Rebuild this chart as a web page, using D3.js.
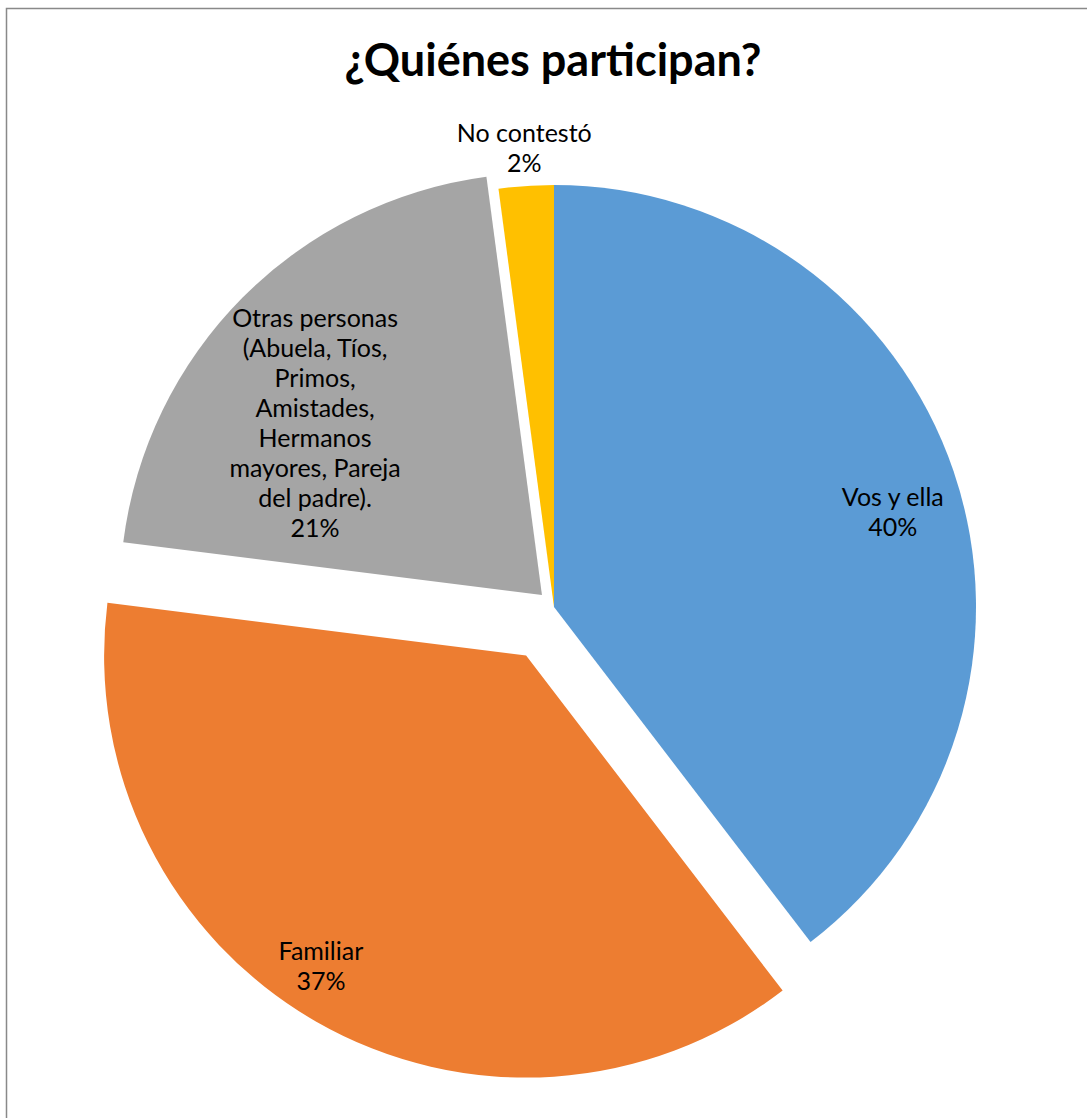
<!DOCTYPE html>
<html>
<head>
<meta charset="utf-8">
<script src="https://cdn.jsdelivr.net/npm/d3@7"></script>
<style>
  body { margin: 0; background: #fff; }
  svg text { font-family: Lato, "Open Sans", sans-serif; }
</style>
</head>
<body>
<div id="chart"></div>
<script>
// slice names and shares (%)
const categories = ["Vos y ella", "Familiar", "Otras personas (Abuela, Tíos, Primos, Amistades, Hermanos mayores, Pareja del padre).", "No contestó"];
const labelLines = [
    ["Vos y ella"],
    ["Familiar"],
    ["Otras personas", "(Abuela, Tíos,", "Primos,", "Amistades,", "Hermanos", "mayores, Pareja", "del padre)."],
    ["No contestó"]
];
const values = [39.6, 37.4, 20.9, 2.1];
const colors = ["#5B9BD5", "#ED7D31", "#A5A5A5", "#FFC000"];
const explode = [0, 56, 17, 0];                 // px the slice is pulled out
const labelR = [0.834, 0.881, 0.674, 1.091];    // label distance as part of the radius
const labelAng = [74.3, 213.5, 307.1, 356.3];   // label direction, degrees from 12 o'clock

const width = 1087, height = 1118;
const cx = 554, cy = 607, radius = 422;
const lineH = 30;

const svg = d3.select("#chart")
    .append("svg")
        .attr("width", width)
        .attr("height", height);

svg.append("rect")
    .attr("x", 6.5)
    .attr("y", 8.5)
    .attr("width", width + 20)
    .attr("height", height + 20)
    .attr("fill", "#fff")
    .attr("stroke", "#898989")
    .attr("stroke-width", 1.5);

svg.append("text")
    .attr("x", 553)
    .attr("y", 76)
    .attr("text-anchor", "middle")
    .attr("font-size", 45)
    .attr("font-weight", "bold")
    .attr("fill", "#000")
    .text("¿Quiénes participan?");

const pie = d3.pie().sort(null).value(d => d)(values);
const arc = d3.arc().innerRadius(0).outerRadius(radius);
const total = d3.sum(values);
const pct = d3.format(".0%");

const g = svg.append("g")
    .attr("transform", `translate(${cx}, ${cy})`);

const slices = g.selectAll("g.slice")
    .data(pie)
    .join("g")
        .attr("class", "slice")
        .attr("transform", (d, i) => {
            const mid = (d.startAngle + d.endAngle) / 2;
            return `translate(${Math.sin(mid) * explode[i]}, ${-Math.cos(mid) * explode[i]})`;
        });

slices.append("path")
    .attr("d", arc)
    .attr("fill", (d, i) => colors[i]);

slices.each(function (d, i) {
    const a = labelAng[i] * Math.PI / 180;
    const lx = Math.sin(a) * radius * labelR[i];
    const ly = -Math.cos(a) * radius * labelR[i];
    const lines = labelLines[i].concat([pct(d.value / total)]);
    const n = lines.length;
    d3.select(this).append("text")
        .attr("text-anchor", "middle")
        .attr("font-size", 25)
        .attr("fill", "#000")
        .selectAll("tspan")
        .data(lines)
        .join("tspan")
            .attr("x", lx)
            .attr("y", (t, j) => ly + (j - (n - 1) / 2) * lineH + 9)
            .text(t => t);
});
</script>
</body>
</html>
